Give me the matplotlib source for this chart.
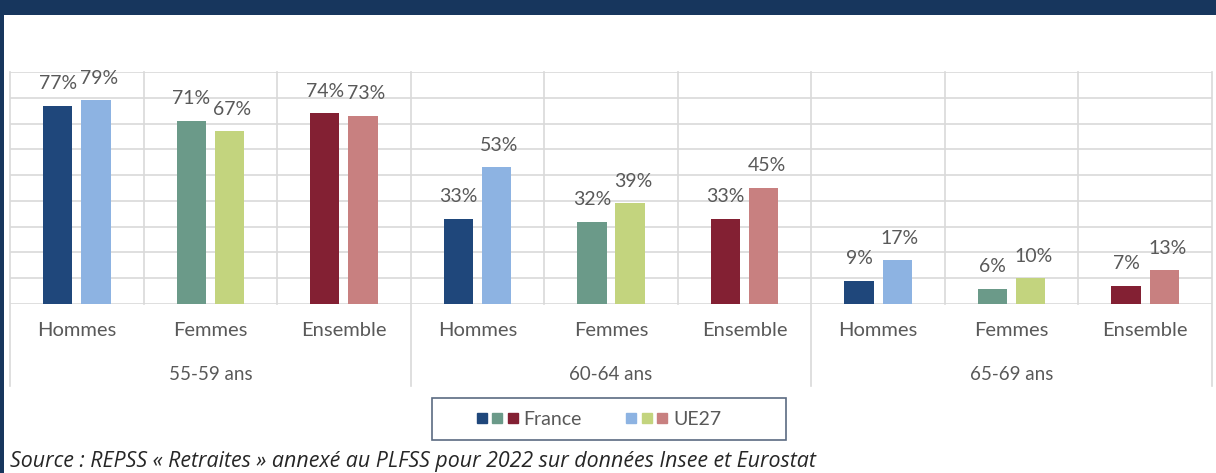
import matplotlib
matplotlib.use("Agg")
import matplotlib.pyplot as plt
import matplotlib.transforms as mtransforms
from matplotlib.lines import Line2D
from matplotlib.legend_handler import HandlerTuple
from matplotlib.patches import Rectangle

# ---- data ----
groups = ["55-59 ans", "60-64 ans", "65-69 ans"]
categories = ["Hommes", "Femmes", "Ensemble"]
france = [77, 71, 74, 33, 32, 33, 9, 6, 7]
ue27 = [79, 67, 73, 53, 39, 45, 17, 10, 13]
france_colors = ["#1F477B", "#6B9A89", "#832033"]
ue27_colors = ["#8DB3E2", "#C3D47E", "#C88080"]
legend_labels = ["France", "UE27"]
source = "Source : REPSS « Retraites » annexé au PLFSS pour 2022 sur données Insee et Eurostat"

W, H = 1216, 473
fig = plt.figure(figsize=(W / 100, H / 100), dpi=100)
fig.patch.set_facecolor("white")

navy = "#17365D"
# frame: top strip and left edge
fig.patches.append(Rectangle((0, 1 - 15 / H), 1, 15 / H, transform=fig.transFigure,
                             facecolor=navy, edgecolor="none", zorder=0))
fig.patches.append(Rectangle((0, 0), 4 / W, 1, transform=fig.transFigure,
                             facecolor=navy, edgecolor="none", zorder=0))

px_left, px_right, px_top, px_base = 10, 1212, 72, 304
ax = fig.add_axes([px_left / W, (H - px_base) / H, (px_right - px_left) / W,
                   (px_base - px_top) / H])
ax.set_xlim(-0.5, 8.5)
ax.set_ylim(0, 90)
for s in ax.spines.values():
    s.set_visible(False)
ax.set_xticks([])
ax.set_yticks([])

grid_c = "#D9D9D9"
text_c = "#595959"
fam = ["Lato", "DejaVu Sans"]

for yv in range(10, 91, 10):
    ax.axhline(yv, color=grid_c, lw=1.2, zorder=1)
ax.axhline(0, color=grid_c, lw=1.2, zorder=1)

trans = mtransforms.blended_transform_factory(ax.transData, ax.transAxes)
n = len(france)
ybot = (px_base - 386) / (px_base - px_top)
for i in range(n + 1):
    xv = i - 0.5
    if i % 3 == 0:
        ax.plot([xv, xv], [ybot, 1], transform=trans, color=grid_c, lw=1.2,
                clip_on=False, zorder=1)
    else:
        ax.plot([xv, xv], [0, 1], transform=trans, color=grid_c, lw=1.2,
                clip_on=False, zorder=1)

bw = 0.22
off = 0.143
xs = list(range(n))
fc = [france_colors[i % 3] for i in xs]
uc = [ue27_colors[i % 3] for i in xs]
ax.bar([x - off for x in xs], france, width=bw, color=fc, zorder=2)
ax.bar([x + off for x in xs], ue27, width=bw, color=uc, zorder=2)

for x, v in zip(xs, france):
    ax.annotate(f"{v}%", (x - off, v), xytext=(0, 12), textcoords="offset points",
                ha="center", va="baseline", fontsize=14, color=text_c, family=fam)
for x, v in zip(xs, ue27):
    ax.annotate(f"{v}%", (x + off, v), xytext=(2, 12), textcoords="offset points",
                ha="center", va="baseline", fontsize=14, color=text_c, family=fam)

ycat = (px_base - 331) / (px_base - px_top)
ygrp = (px_base - 374) / (px_base - px_top)
for i in xs:
    ax.text(i, ycat, categories[i % 3], transform=trans, ha="center", va="center",
            fontsize=14.5, color=text_c, family=fam)
for g, name in enumerate(groups):
    ax.text(3 * g + 1, ygrp, name, transform=trans, ha="center", va="center",
            fontsize=13.5, color=text_c, family=fam)

# legend frame drawn as a box, legend content inside
fig.patches.append(Rectangle((432 / W, (H - 440) / H), 354 / W, 42 / H,
                             transform=fig.transFigure, facecolor="white",
                             edgecolor="#5B6B82", linewidth=1.2, zorder=1))
h_fr = tuple(Line2D([], [], marker="s", linestyle="none", markersize=7,
                    color=c) for c in france_colors)
h_ue = tuple(Line2D([], [], marker="s", linestyle="none", markersize=7,
                    color=c) for c in ue27_colors)
leg = fig.legend([h_fr, h_ue], legend_labels,
                 handler_map={tuple: HandlerTuple(ndivide=None, pad=0.3)},
                 loc="center", bbox_to_anchor=(599 / W, (H - 419) / H),
                 ncol=2, frameon=False, fontsize=14,
                 handlelength=2.1, handletextpad=0.3, columnspacing=2.3,
                 borderpad=0.3, prop={"family": fam, "size": 14})
for t in leg.get_texts():
    t.set_color(text_c)

fig.text(10 / W, (H - 461) / H, source, ha="left", va="center", fontsize=15.4,
         style="italic", color="#262626", family=["Open Sans", "DejaVu Sans"])

fig.savefig("out.png", dpi=100)
